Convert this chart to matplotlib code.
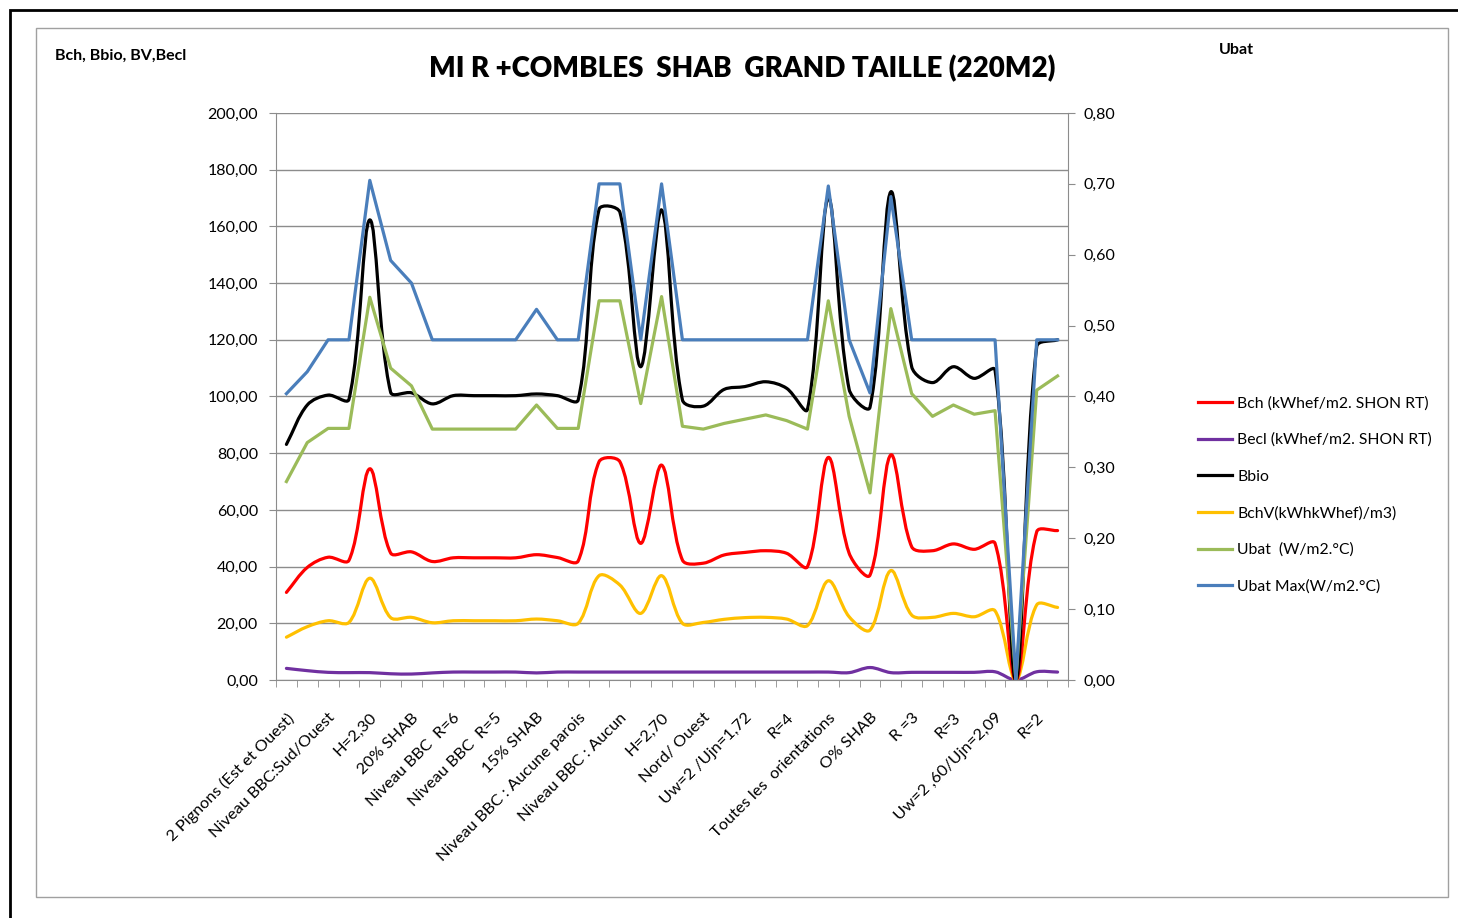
import matplotlib
matplotlib.use("Agg")
import matplotlib.pyplot as plt
from matplotlib.path import Path
from matplotlib.patches import PathPatch, Rectangle
from matplotlib.lines import Line2D
from matplotlib.ticker import FuncFormatter, FixedLocator
import numpy as np

plt.rcParams['font.family'] = ['Lato', 'DejaVu Sans']

# 38 cases, only every second one labelled on the axis
labels = ["2 Pignons (Est et Ouest)", "Niveau BBC:Sud/Ouest", "H=2,30", "20% SHAB",
          "Niveau BBC  R=6", "Niveau BBC  R=5", "15% SHAB", "Niveau BBC : Aucune parois",
          "Niveau BBC : Aucun", "H=2,70", "Nord/ Ouest", "Uw=2 /Ujn=1,72", "R=4",
          "Toutes les  orientations", "O% SHAB", "R =3", "R=3", "Uw=2 ,60/Ujn=2,09", "R=2"]
n_cases = 38

bch = [30.9, 39.7, 43.3, 42.2, 74.5, 44.8, 45.2, 41.8, 43.1, 43.1, 43.1, 43.1, 44.2, 43.2,
       42.0, 77.0, 77.0, 48.2, 75.8, 42.3, 41.2, 44.1, 45.0, 45.6, 44.7, 40.0, 78.5, 44.7,
       37.0, 79.4, 47.0, 45.6, 48.0, 46.1, 48.2, 0.0, 52.3, 52.7]
becl = [4.1, 3.3, 2.7, 2.6, 2.6, 2.2, 2.1, 2.5, 2.8, 2.8, 2.8, 2.8, 2.5, 2.8, 2.8, 2.8,
        2.8, 2.8, 2.8, 2.8, 2.8, 2.8, 2.8, 2.8, 2.8, 2.8, 2.8, 2.6, 4.4, 2.6, 2.7, 2.7,
        2.7, 2.7, 2.9, 0.0, 2.9, 2.8]
bbio = [83.1, 97.0, 100.5, 99.0, 162.3, 101.5, 101.3, 97.4, 100.3, 100.3, 100.3, 100.3,
        100.9, 100.3, 98.8, 166.0, 165.0, 110.5, 165.8, 98.8, 96.6, 102.5, 103.5, 105.2,
        102.9, 95.5, 170.0, 102.5, 96.2, 172.2, 110.5, 104.9, 110.5, 106.4, 109.3, 0.0,
        117.6, 120.0]
bchv = [15.1, 18.8, 20.9, 20.3, 35.9, 22.0, 22.1, 20.2, 20.9, 20.9, 20.9, 20.9, 21.5, 20.9,
        20.0, 36.8, 33.5, 23.5, 36.8, 20.0, 20.3, 21.4, 22.0, 22.1, 21.5, 19.2, 35.0, 22.3,
        17.6, 38.6, 22.9, 22.1, 23.5, 22.3, 24.4, 0.0, 26.5, 25.6]
ubat = [0.280, 0.335, 0.355, 0.355, 0.540, 0.440, 0.415, 0.354, 0.354, 0.354, 0.354, 0.354,
        0.388, 0.355, 0.355, 0.535, 0.535, 0.390, 0.541, 0.358, 0.354, 0.362, 0.368, 0.374,
        0.366, 0.354, 0.535, 0.372, 0.264, 0.524, 0.404, 0.372, 0.388, 0.375, 0.380, 0.0,
        0.409, 0.429]
ubat_max = [0.404, 0.435, 0.480, 0.480, 0.705, 0.592, 0.560, 0.480, 0.480, 0.480, 0.480,
            0.480, 0.523, 0.480, 0.480, 0.700, 0.700, 0.480, 0.700, 0.480, 0.480, 0.480,
            0.480, 0.480, 0.480, 0.480, 0.697, 0.480, 0.405, 0.682, 0.480, 0.480, 0.480,
            0.480, 0.480, 0.0, 0.480, 0.480]

RED, PURPLE, BLACK, ORANGE = "#FF0000", "#7030A0", "#000000", "#FFC000"
GREEN, BLUE = "#9BBB59", "#4A7EBB"
GRID = "#8C8C8C"

# pixel size of one data unit, used to weight the smoothing like excel does
PX_X, PX_Y = 20.85, 2.835


def smooth_path(x, y):
    # bezier segments through every point, tangents weighted by chord length
    pts = np.column_stack([x, y]).astype(float)
    scr = pts * [PX_X, PX_Y]
    n = len(pts)
    verts = [pts[0]]
    codes = [Path.MOVETO]
    for i in range(n - 1):
        a, b = max(i - 1, 0), min(i + 2, n - 1)
        d0 = np.hypot(*(scr[i] - scr[a]))
        d1 = np.hypot(*(scr[i + 1] - scr[i]))
        d2 = np.hypot(*(scr[b] - scr[i + 1]))
        f1 = d1 / (d0 + d1) / 3 if d0 + d1 > 0 else 0
        f2 = d1 / (d1 + d2) / 3 if d1 + d2 > 0 else 0
        c1 = pts[i] + (pts[i + 1] - pts[a]) * f1
        c2 = pts[i + 1] - (pts[b] - pts[i]) * f2
        verts += [c1, c2, pts[i + 1]]
        codes += [Path.CURVE4] * 3
    return Path(verts, codes)


fig = plt.figure(figsize=(14.58, 9.18), dpi=100)

# outer black border and inner gray chart frame
fig.add_artist(Rectangle((10 / 1458, -0.05), 1.1, 1 - 10 / 918 + 0.05, transform=fig.transFigure,
                         fill=False, ec="black", lw=2))
fig.add_artist(Rectangle((36 / 1458, 1 - 897 / 918), (1448 - 36) / 1458, (897 - 28) / 918,
                         transform=fig.transFigure, fill=False, ec="#A0A0A0", lw=1))

ax = fig.add_axes([276 / 1458, 1 - 680 / 918, 792 / 1458, 567 / 918])
ax2 = ax.twinx()

x = np.arange(n_cases)
for vals, col in [(becl, PURPLE), (bchv, ORANGE), (bch, RED), (bbio, BLACK)]:
    ax.add_patch(PathPatch(smooth_path(x, vals), fill=False, ec=col, lw=2.3,
                           capstyle="round", joinstyle="round"))
ax2.plot(x, ubat, color=GREEN, lw=2.3)
ax2.plot(x, ubat_max, color=BLUE, lw=2.3)

ax.set_xlim(-0.5, n_cases - 0.5)
ax.set_ylim(0, 200)
ax2.set_ylim(0, 0.8)

ax.set_yticks(np.arange(0, 201, 20))
ax2.set_yticks(np.arange(0, 0.81, 0.1))
ax.yaxis.set_major_formatter(FuncFormatter(lambda v, p: f"{v:.2f}".replace(".", ",")))
ax2.yaxis.set_major_formatter(FuncFormatter(lambda v, p: f"{v:.2f}".replace(".", ",")))
ax.grid(axis="y", color=GRID, lw=1)
ax.set_axisbelow(True)

ax.xaxis.set_major_locator(FixedLocator(x[::2]))
ax.set_xticklabels(labels, rotation=45, ha="right", va="top", rotation_mode="anchor",
                   fontsize=11.8)
ax.xaxis.set_minor_locator(FixedLocator(np.arange(n_cases + 1) - 0.5))
ax.tick_params(axis="x", which="major", length=0, pad=22)
ax.tick_params(axis="x", which="minor", length=5, color=GRID)
ax.tick_params(axis="y", length=5, color=GRID, labelsize=11.5, pad=8)
ax2.tick_params(axis="y", length=5, color=GRID, labelsize=11.5, pad=6)

for a in (ax, ax2):
    for s in a.spines.values():
        s.set_visible(False)
ax.spines["left"].set_visible(True)
ax.spines["left"].set_color(GRID)
ax.spines["bottom"].set_visible(True)
ax.spines["bottom"].set_color(GRID)
ax2.spines["right"].set_visible(True)
ax2.spines["right"].set_color(GRID)

fig.text(742 / 1458, 1 - 69 / 918, "MI R +COMBLES  SHAB  GRAND TAILLE (220M2)",
         fontsize=20, fontweight="heavy", ha="center", va="center")
fig.text(55 / 1458, 1 - 56 / 918, "Bch, Bbio, BV,Becl", fontsize=11.5, fontweight="bold",
         ha="left", va="center")
fig.text(1236 / 1458, 1 - 50 / 918, "Ubat", fontsize=11.5, fontweight="bold",
         ha="center", va="center")

names = ["Bch (kWhef/m2. SHON RT)", "Becl (kWhef/m2. SHON RT)", "Bbio",
         "BchV(kWhkWhef)/m3)", "Ubat  (W/m2.°C)", "Ubat Max(W/m2.°C)"]
colors = [RED, PURPLE, BLACK, ORANGE, GREEN, BLUE]
handles = [Line2D([], [], color=c, lw=2.3) for c in colors]
fig.legend(handles, names, loc="upper left", bbox_to_anchor=(1198 / 1458, 1 - 396 / 918),
           frameon=False, fontsize=11.3, handlelength=2.15, handletextpad=0.35,
           labelspacing=1.43, borderpad=0, borderaxespad=0)

fig.savefig("out.png", dpi=100)
